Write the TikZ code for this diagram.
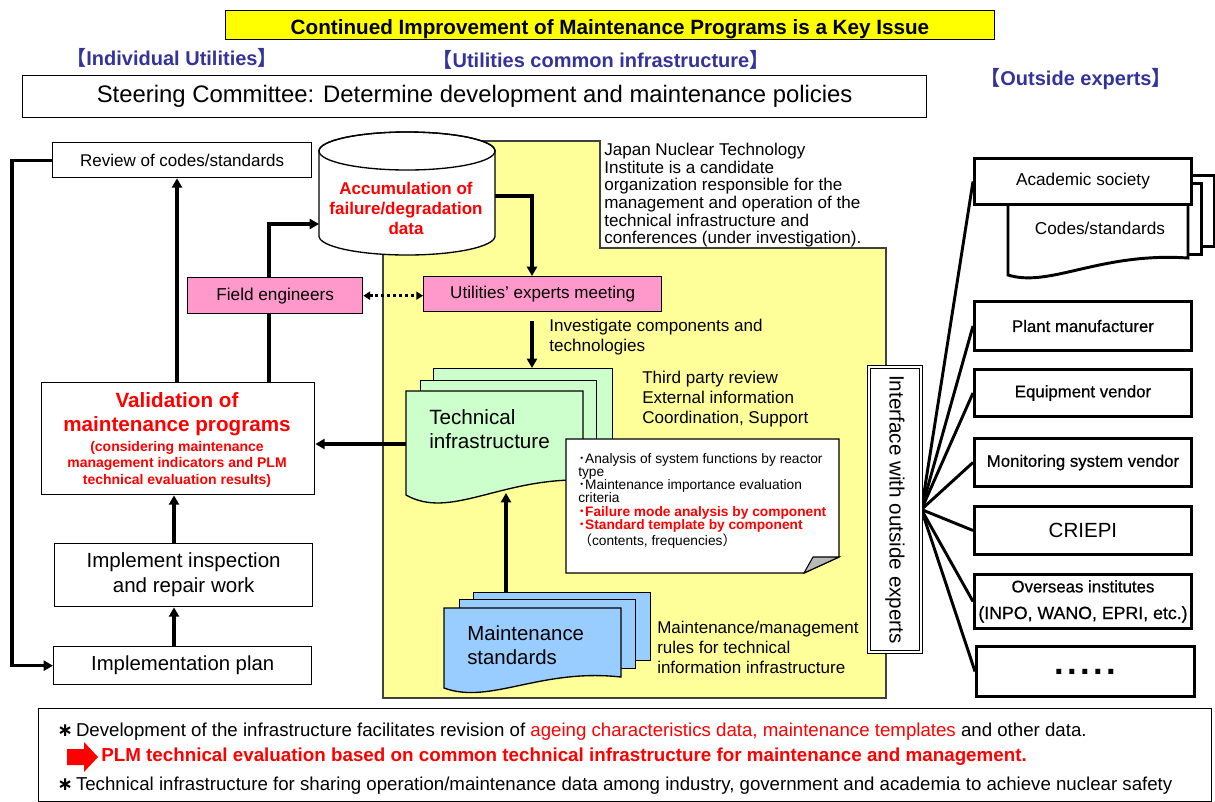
\documentclass[tikz,border=0pt]{standalone}
\usepackage{fontspec}
\setmainfont{Liberation Sans}
\newfontfamily\cjk{Noto Sans CJK JP}
\newfontfamily\dejavu{DejaVu Sans}
\usetikzlibrary{arrows.meta,calc}
\definecolor{pinkf}{HTML}{FF99CC}
\definecolor{yelreg}{HTML}{FFFF99}
\definecolor{titley}{HTML}{FFFF00}
\definecolor{greenf}{HTML}{CCFFCC}
\definecolor{bluef}{HTML}{99CCFF}
\definecolor{headblue}{HTML}{333399}
\definecolor{redt}{HTML}{FF0000}
\newcommand\PX{*0.75pt}
\newcommand\FS[2]{\fontsize{#1pt}{#2pt}\selectfont}
\newcommand\semibold{\addfontfeature{FakeBold=0.6}}
\newcommand\astr{{\dejavu\bfseries ∗}\,}
\pgfdeclarelayer{bglayer}
\pgfdeclarelayer{connlayer}
\pgfsetlayers{bglayer,connlayer,main}
\begin{document}
\begin{tikzpicture}[x=0.75pt,y=-0.75pt,
  box/.style={draw, fill=white, line width=1pt, inner sep=0pt, align=center, anchor=north west},
  tbox/.style={box, line width=2.2pt},
  sheet/.style={draw, line width=1pt, inner sep=0pt, anchor=north west},
  txt/.style={inner sep=0pt, align=left, anchor=north west},
  lbl/.style={inner sep=0pt, align=center},
  arr/.style={line width=2.4pt, -{Triangle[length=7pt,width=7.5pt]}},
  dotarr/.style={line width=2.2pt, dash pattern=on 2.2pt off 2.2pt, {Triangle[length=5pt,width=6pt]}-{Triangle[length=5pt,width=6pt]}},
  fanline/.style={line width=2.2pt},
]
\useasboundingbox (0,0) rectangle (1215,801);

% title and headings
\node[box, fill=titley, minimum width=769\PX, minimum height=29\PX] (title) at (225,10) {};
\node[lbl, font=\FS{15.5}{18}\bfseries] (titletext) at (610,29) {Continued Improvement of Maintenance Programs is a Key Issue};
\node[lbl, text=headblue, font=\FS{15}{17}\bfseries] (h1) at (172,58) {{\cjk 【}Individual Utilities{\cjk 】}};
\node[lbl, text=headblue, font=\FS{15}{17}\bfseries] (h2) at (601,60) {{\cjk 【}Utilities common infrastructure{\cjk 】}};
\node[lbl, text=headblue, font=\FS{15}{17}\bfseries] (h3) at (1076,79) {{\cjk 【}Outside experts{\cjk 】}};

\node[box, minimum width=904\PX, minimum height=42\PX, font=\FS{17.9}{20}] (steer) at (22,75) {Steering Committee: Determine development and maintenance policies};

% yellow common infrastructure region
\begin{pgfonlayer}{bglayer}
\path[draw=black!75, line width=0.8pt, fill=yelreg] (383,698) -- (383,141) -- (600,141) -- (600,248) -- (886,248) -- (886,698) -- cycle;
\end{pgfonlayer}

\node[txt, font=\FS{12.8}{13.2}] (jnti) at (604,143) {Japan Nuclear Technology\\Institute is a candidate\\organization responsible for the\\management and operation of the\\technical infrastructure and\\conferences (under investigation).};

% left column
\node[box, minimum width=259\PX, minimum height=35\PX, font=\FS{12.75}{14}] (review) at (52,142) {Review of codes/standards};

% cylinder
\path[draw, fill=white, line width=1pt] (319,151) -- (319,236) arc[start angle=180, end angle=360, x radius=66pt, y radius=14.25pt] -- (495,151) arc[start angle=0, end angle=180, x radius=66pt, y radius=14.25pt] -- cycle;
\draw[line width=1pt] (407,151) ellipse [x radius=66pt, y radius=14.25pt];
\node[lbl, text=redt, font=\FS{12.75}{15}\bfseries] (cyl) at (406,208) {Accumulation of\\failure/degradation\\data};
\coordinate (cylL) at (319,224);
\coordinate (cylR) at (495,196);

\node[box, fill=pinkf, minimum width=175\PX, minimum height=36\PX, font=\FS{12.9}{14}] (field) at (187,277) {Field engineers};
\node[box, fill=pinkf, minimum width=238\PX, minimum height=35\PX, font=\FS{12.8}{14}] (meet) at (423,276) {Utilities' experts meeting};
\node[txt, font=\FS{12.8}{15}] (invtext) at (549,319) {Investigate components and\\technologies};

\node[box, minimum width=273\PX, minimum height=112\PX] (val) at (41,382) {};
\node[lbl, text=redt, font=\FS{15.5}{18}\bfseries] (valt1) at (177,414) {Validation of\\maintenance programs};
\node[lbl, text=redt, font=\FS{10.5}{12.4}\bfseries] (valt2) at (177,464) {(considering maintenance\\management indicators and PLM\\technical evaluation results)};

\node[box, minimum width=258\PX, minimum height=63\PX, font=\FS{15.4}{18.75}] (imp) at (54,543) {Implement inspection\\and repair work};
\node[box, minimum width=258\PX, minimum height=38\PX, font=\FS{15.25}{17}] (plan) at (53,646) {Implementation plan};

% technical infrastructure stack
\node[sheet, fill=greenf, minimum width=179\PX, minimum height=90\PX] (tiback) at (433,368) {};
\node[sheet, fill=greenf, minimum width=176\PX, minimum height=90\PX] (timid) at (420,380) {};
\path[draw, fill=greenf, line width=1pt] (406,391) -- (583,391) -- (583,480) .. controls (500,478) and (450,520) .. (406,495) -- cycle;
\node[txt, font=\FS{15.5}{18}] (titext) at (429,409) {Technical\\infrastructure};
\coordinate (tiW) at (406,444);
\coordinate (tiB) at (506,493);

% note with folded corner
\path[draw, fill=white, line width=1pt] (566,439) -- (839,439) -- (839,557) -- (804,573) -- (566,573) -- cycle;
\path[draw, fill=gray!55, line width=0.8pt] (804,573) -- (813,557) -- (839,557) -- cycle;
\node[txt, font=\FS{10.3}{9.9}] (notetext) at (578,453) {{\cjk ･}Analysis of system functions by reactor\\type\\{\cjk ･}Maintenance importance evaluation\\criteria\\{\color{redt}\bfseries{\cjk ･}Failure mode analysis by component}\\{\color{redt}\bfseries{\cjk ･}Standard template by component}\\{\cjk （}contents, frequencies{\cjk ）}};

\node[txt, font=\FS{12.8}{15}] (third) at (642,371) {Third party review\\External information\\Coordination, Support};

% maintenance standards stack
\node[sheet, fill=bluef, minimum width=177\PX, minimum height=68\PX] (msback) at (473,592) {};
\node[sheet, fill=bluef, minimum width=176\PX, minimum height=69\PX] (msmid) at (459,599) {};
\path[draw, fill=bluef, line width=1pt] (444,608) -- (621,608) -- (621,677) .. controls (540,668) and (490,705) .. (444,688) -- cycle;
\node[txt, font=\FS{15.3}{18.5}] (mstext) at (467,625) {Maintenance\\standards};
\node[txt, font=\FS{12.75}{15}] (rules) at (657,621) {Maintenance/management\\rules for technical\\information infrastructure};

% interface
\node[draw, fill=white, double, double distance=1.6pt, line width=0.6pt, rotate=-90, minimum width=285\PX, minimum height=52\PX, inner sep=0pt, font=\FS{15.5}{17}] (iface) at (895,509.5) {Interface with outside experts};

% outside experts
\node[sheet, fill=white, line width=2.2pt, minimum width=183\PX, minimum height=71\PX] (csback) at (1030,174) {};
\node[sheet, fill=white, line width=2.2pt, minimum width=180\PX, minimum height=71\PX] (csmid) at (1020,182) {};
\path[draw, fill=white, line width=2.2pt] (1008,195) -- (1188,195) -- (1188,258) .. controls (1100,252) and (1050,288) .. (1008,275) -- cycle;
\node[lbl, font=\FS{12.9}{14}] (cstext) at (1100,228) {Codes/standards};
\node[tbox, minimum width=217\PX, minimum height=46\PX, font=\FS{12.9}{14}] (acad) at (973,157) {Academic society};
\node[tbox, minimum width=217\PX, minimum height=49\PX, font=\FS{12.6}{14}\semibold] (plant) at (973,300) {Plant manufacturer};
\node[tbox, minimum width=217\PX, minimum height=47\PX, font=\FS{12.6}{14}\semibold] (equip) at (973,368) {Equipment vendor};
\node[tbox, minimum width=217\PX, minimum height=48\PX, font=\FS{12.6}{14}\semibold] (monit) at (973,437) {Monitoring system vendor};
\node[tbox, minimum width=217\PX, minimum height=48\PX, font=\FS{15.4}{17}] (criepi) at (973,505) {CRIEPI};
\node[tbox, minimum width=217\PX, minimum height=54\PX, font=\FS{12.6}{20}\semibold] (overseas) at (973,573) {Overseas institutes\\{\fontsize{13.3pt}{20pt}\selectfont (INPO, WANO, EPRI, etc.)}};
\node[tbox, minimum width=218\PX, minimum height=50\PX, font=\FS{26}{28}\bfseries] (dots) at (975,645) {.\hspace{2.6pt}.\hspace{2.6pt}.\hspace{2.6pt}.\hspace{2.6pt}.};

% bottom notes
\node[box, minimum width=1173\PX, minimum height=93\PX] (notes) at (38,708) {};
\node[inner sep=0pt, anchor=west, font=\FS{14}{16}] (n1) at (57,732) {\astr Development of the infrastructure facilitates revision of {\color{redt}ageing characteristics data, maintenance templates} and other data.};
\path[fill=redt] (67,749) -- (84,749) -- (84,742) -- (98,757) -- (84,772) -- (84,765) -- (67,765) -- cycle;
\node[inner sep=0pt, anchor=west, text=redt, font=\FS{14.1}{16}\bfseries] (n2) at (101,757) {PLM technical evaluation based on common technical infrastructure for maintenance and management.};
\node[inner sep=0pt, anchor=west, font=\FS{14}{16}] (n3) at (57,786) {\astr Technical infrastructure for sharing operation/maintenance data among industry, government and academia to achieve nuclear safety};

% connectors
\coordinate (xa) at (177,0);
\coordinate (xb) at (269,0);
\coordinate (xc) at (532,0);
\coordinate (xd) at (174,0);
\coordinate (invs) at (532,321);
\begin{pgfonlayer}{connlayer}
\draw[arr] (review.west) -- ++(-40,0) |- (plan.west);
\draw[arr] (val.north -| xa) -- (review.south -| xa);
\draw[arr] (val.north -| xb) -- (xb |- cylL) -- (cylL);
\draw[arr] (cylR) -| (meet.north -| xc);
\draw[dotarr] (field.east) -- (meet.west |- field.east);
\draw[arr] (invs) -- (invs |- tiback.north);
\draw[arr] (tiW) -- (val.east |- tiW);
\draw[arr] (msback.north -| tiB) -- (tiB);
\draw[arr] (imp.north -| xd) -- (val.south -| xd);
\draw[arr] (plan.north -| xd) -- (imp.south -| xd);
\foreach \b in {acad,plant,equip,monit,criepi,overseas,dots}
  \draw[fanline] (iface.north) -- (\b.west);
\end{pgfonlayer}
\end{tikzpicture}
\end{document}
